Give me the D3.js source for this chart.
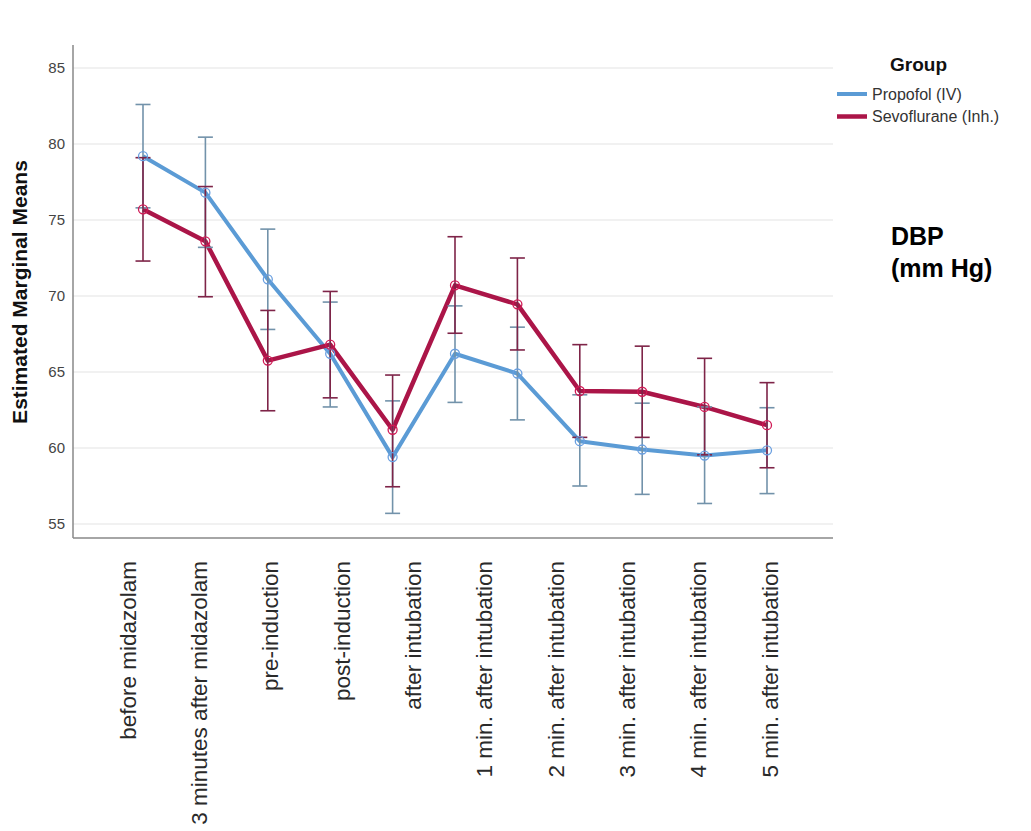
<!DOCTYPE html>
<html>
<head>
<meta charset="utf-8">
<script src="https://cdn.jsdelivr.net/npm/d3@7"></script>
<style>
  html, body { margin: 0; padding: 0; background: #fff; }
  svg { display: block; font-family: "Liberation Sans", Arial, sans-serif; }
</style>
</head>
<body>
<svg id="chart" width="1031" height="831"></svg>
<script>
// ---- data ----
const timePoints = ["T1","T2","T3","T4","T5","T6","T7","T8","T9","T10","T11"];
const tickLabels = ["before midazolam","3 minutes after midazolam","pre-induction","post-induction",
  "after intubation","1 min. after intubation","2 min. after intubation","3 min. after intubation",
  "4 min. after intubation","5 min. after intubation"];
const yTicks = [55, 60, 65, 70, 75, 80, 85];
const groups = ["Propofol (IV)", "Sevoflurane (Inh.)"];

const propofolMean  = [79.2, 76.8, 71.1, 66.2, 59.4, 66.2, 64.9, 60.45, 59.9, 59.5, 59.85];
const propofolLower = [75.8, 73.2, 67.8, 62.7, 55.7, 63.0, 61.85, 57.5, 56.95, 56.35, 57.0];
const propofolUpper = [82.6, 80.45, 74.4, 69.6, 63.1, 69.35, 67.95, 63.5, 62.95, 62.7, 62.65];

const sevoMean  = [75.7, 73.6, 65.75, 66.8, 61.2, 70.7, 69.45, 63.75, 63.7, 62.7, 61.5];
const sevoLower = [72.3, 69.95, 62.45, 63.3, 57.45, 67.55, 66.45, 60.7, 60.7, 59.55, 58.7];
const sevoUpper = [79.1, 77.2, 69.05, 70.3, 64.8, 73.9, 72.5, 66.8, 66.7, 65.9, 64.3];

// ---- layout & style ----
const plot = { left: 73, right: 833, top: 45, bottom: 538 };
const styles = [
  { line: "#5b9bd5", bar: "#7292aa", marker: "#6a9fe0", width: 4 },
  { line: "#ab1548", bar: "#7e2448", marker: "#d01a55", width: 4.5 }
];

const series = [
  { name: groups[0], mean: propofolMean, lower: propofolLower, upper: propofolUpper, style: styles[0] },
  { name: groups[1], mean: sevoMean, lower: sevoLower, upper: sevoUpper, style: styles[1] }
];

const svg = d3.select("#chart");

const x = d3.scalePoint().domain(timePoints).range([143, 767]);
const xLab = d3.scalePoint().domain(tickLabels).range([127, 769]);
const y = d3.scaleLinear().domain([55, 85]).range([524, 68]);

// grid
svg.append("g").selectAll("line").data(yTicks).join("line")
  .attr("x1", plot.left).attr("x2", plot.right)
  .attr("y1", d => y(d)).attr("y2", d => y(d))
  .attr("stroke", "#e4e4e4").attr("stroke-width", 1.2);

// y axis labels
const yAxis = svg.append("g").attr("transform", `translate(${plot.left},0)`)
  .call(d3.axisLeft(y).tickValues(yTicks).tickSize(0).tickPadding(8));
yAxis.select(".domain").remove();
yAxis.selectAll("text").attr("font-size", 15).attr("fill", "#444")
  .attr("font-family", "Liberation Sans, Arial, sans-serif");

// axis lines
svg.append("line").attr("x1", plot.left).attr("x2", plot.left)
  .attr("y1", plot.top).attr("y2", plot.bottom).attr("stroke", "#888").attr("stroke-width", 1.5);
svg.append("line").attr("x1", plot.left).attr("x2", plot.right)
  .attr("y1", plot.bottom).attr("y2", plot.bottom).attr("stroke", "#888").attr("stroke-width", 1.5);

// x labels
const xAxis = svg.append("g").attr("transform", `translate(0,561)`)
  .call(d3.axisBottom(xLab).tickSize(0).tickPadding(0));
xAxis.select(".domain").remove();
xAxis.selectAll("text")
  .attr("font-size", 22.5).attr("fill", "#2a2a2a")
  .attr("font-family", "Liberation Sans, Arial, sans-serif")
  .attr("text-anchor", "end")
  .attr("transform", "rotate(-90)")
  .attr("x", 0).attr("y", 0).attr("dy", "0.36em");

// y title
svg.append("text")
  .attr("transform", "translate(27,292) rotate(-90)")
  .attr("text-anchor", "middle")
  .attr("font-size", 21).attr("font-weight", "bold").attr("fill", "#111")
  .text("Estimated Marginal Means");

// lines
const lineGen = (s) => d3.line().x((d, i) => x(timePoints[i])).y(d => y(d))(s.mean);
series.forEach(s => {
  svg.append("path").attr("d", lineGen(s))
    .attr("fill", "none").attr("stroke", s.style.line)
    .attr("stroke-width", s.style.width).attr("stroke-linejoin", "round");
});

// error bars & markers
const cap = 7.5;
series.forEach(s => {
  const g = svg.append("g").attr("stroke", s.style.bar).attr("stroke-width", 1.6).attr("fill", "none");
  timePoints.forEach((t, i) => {
    const cx = x(t);
    g.append("line").attr("x1", cx).attr("x2", cx).attr("y1", y(s.lower[i])).attr("y2", y(s.upper[i]));
    g.append("line").attr("x1", cx - cap).attr("x2", cx + cap).attr("y1", y(s.lower[i])).attr("y2", y(s.lower[i]));
    g.append("line").attr("x1", cx - cap).attr("x2", cx + cap).attr("y1", y(s.upper[i])).attr("y2", y(s.upper[i]));
  });
});
series.forEach(s => {
  svg.append("g").selectAll("circle").data(s.mean).join("circle")
    .attr("cx", (d, i) => x(timePoints[i])).attr("cy", d => y(d)).attr("r", 4.5)
    .attr("fill", "none").attr("stroke", s.style.marker).attr("stroke-width", 1.3);
});

// legend
svg.append("text").attr("x", 890).attr("y", 71)
  .attr("font-size", 19).attr("font-weight", "bold").attr("fill", "#111").text("Group");
const leg = svg.append("g");
series.forEach((s, i) => {
  const ly = 94 + i * 22.5;
  leg.append("line").attr("x1", 837).attr("x2", 867).attr("y1", ly).attr("y2", ly)
    .attr("stroke", s.style.line).attr("stroke-width", s.style.width);
  leg.append("text").attr("x", 872).attr("y", ly).attr("dy", "0.36em")
    .attr("font-size", 16).attr("fill", "#333").text(s.name);
});

// annotation
svg.append("text").attr("x", 891).attr("y", 245)
  .attr("font-size", 25).attr("font-weight", "bold").attr("fill", "#000").text("DBP");
svg.append("text").attr("x", 891).attr("y", 277)
  .attr("font-size", 25).attr("font-weight", "bold").attr("fill", "#000").text("(mm Hg)");
</script>
</body>
</html>
